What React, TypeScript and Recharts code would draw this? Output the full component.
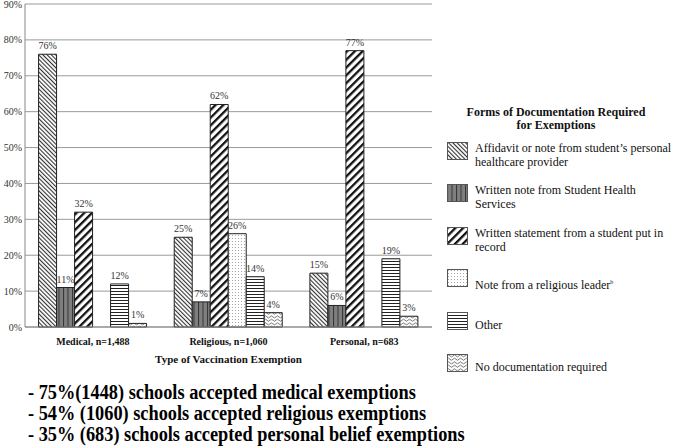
import React from 'react';
import { BarChart, Bar, XAxis, YAxis, CartesianGrid, LabelList } from 'recharts';

const categories = ['Medical, n=1,488', 'Religious, n=1,060', 'Personal, n=683'];
const seriesNames = [
  'Affidavit or note from student\u2019s personal\nhealthcare provider',
  'Written note from Student Health\nServices',
  'Written statement from a student put in\nrecord',
  'Note from a religious leader',
  'Other',
  'No documentation required',
];
const seriesSup = ['', '', '', 'b', '', ''];
const affidavit = [76, 25, 15];
const healthServices = [11, 7, 6];
const statement = [32, 62, 77];
const religiousLeader: (number | null)[] = [null, 26, null];
const other = [12, 14, 19];
const noDocumentation = [1, 4, 3];
const yTicks = [0, 10, 20, 30, 40, 50, 60, 70, 80, 90];
const legendTitle = ['Forms of Documentation Required', 'for Exemptions'];
const xAxisTitle = 'Type of Vaccination Exemption';
const summaryLines = [
  '- 75%(1448) schools accepted medical exemptions',
  '- 54% (1060) schools accepted religious exemptions',
  '- 35% (683) schools accepted personal belief exemptions',
];

const seriesValues = [affidavit, healthServices, statement, religiousLeader, other, noDocumentation];
const keys = ['s0', 's1', 's2', 's3', 's4', 's5'];
const data = categories.map((c, i) => {
  const row: any = { name: c };
  keys.forEach((k, j) => {
    row[k] = seriesValues[j][i];
  });
  return row;
});

const FONT = '"Liberation Serif", "Times New Roman", serif';

const Patterns = () => (
  <defs>
    <pattern id="p0" patternUnits="userSpaceOnUse" width="3" height="3" patternTransform="rotate(-45)">
      <rect width="3" height="3" fill="#fff" />
      <rect x="0" y="0" width="1.1" height="3" fill="#333" />
    </pattern>
    <pattern id="p1" patternUnits="userSpaceOnUse" width="4.5" height="4">
      <rect width="4.5" height="4" fill="#7f7f7f" />
      <rect x="0" y="0" width="1" height="4" fill="#333" />
    </pattern>
    <pattern id="p2" patternUnits="userSpaceOnUse" width="5.5" height="5.5" patternTransform="rotate(45)">
      <rect width="5.5" height="5.5" fill="#fff" />
      <rect x="0" y="0" width="2.3" height="5.5" fill="#111" />
    </pattern>
    <pattern id="p3" patternUnits="userSpaceOnUse" width="3" height="3">
      <rect width="3" height="3" fill="#fff" />
      <rect x="1" y="1" width="0.8" height="0.8" fill="#777" />
    </pattern>
    <pattern id="p4" patternUnits="userSpaceOnUse" width="3" height="3">
      <rect width="3" height="3" fill="#fff" />
      <rect x="0" y="0" width="3" height="1" fill="#222" />
    </pattern>
    <pattern id="p5" patternUnits="userSpaceOnUse" width="6" height="3.5">
      <rect width="6" height="3.5" fill="#fff" />
      <path d="M0 1.8 L1.5 0.8 L3 1.8 L4.5 2.8 L6 1.8" stroke="#444" strokeWidth="0.8" fill="none" />
    </pattern>
  </defs>
);

const fmt = (v: any) => (v ? `${v}%` : '');

export default function App() {
  return (
    <div style={{ position: 'absolute', left: 0, top: 0, width: 675, height: 447, background: '#fff', fontFamily: FONT, overflow: 'hidden' }}>
      <BarChart
        width={675}
        height={366}
        data={data}
        margin={{ top: 4, right: 243, bottom: 0, left: 0 }}
        barCategoryGap="10%"
        barGap={0}
      >
        <Patterns />
        <CartesianGrid vertical={false} stroke="#9a9a9a" strokeWidth={1} />
        <XAxis
          dataKey="name"
          tickLine={false}
          tickSize={0}
          tickMargin={11}
          height={39}
          stroke="#888"
          tick={{ fontSize: 10, fontWeight: 'bold', fill: '#111', fontFamily: FONT }}
          label={{ value: xAxisTitle, position: 'insideBottom', offset: 3, fontSize: 11, fontWeight: 'bold', fill: '#111', fontFamily: FONT }}
        />
        <YAxis
          width={25}
          domain={[0, 90]}
          ticks={yTicks}
          tickFormatter={(v: number) => `${v}%`}
          tickLine={false}
          tickSize={0}
          tickMargin={3}
          stroke="#888"
          tick={{ fontSize: 10, fill: '#333', fontFamily: FONT }}
          interval={0}
        />
        {keys.map((k, j) => (
          <Bar key={k} dataKey={k} name={seriesNames[j]} fill={`url(#p${j})`} stroke="#222" strokeWidth={1} isAnimationActive={false}>
            <LabelList dataKey={k} position="top" offset={5} formatter={fmt} style={{ fontSize: 10, fill: '#333', fontFamily: FONT }} />
          </Bar>
        ))}
      </BarChart>

      <div style={{ position: 'absolute', left: 440, width: 232, top: 106, textAlign: 'center', fontWeight: 'bold', fontSize: 12, lineHeight: '13px', color: '#111' }}>
        {legendTitle.map((t) => (
          <div key={t}>{t}</div>
        ))}
      </div>
      {seriesNames.map((n, j) => {
        const top = 142 + j * 42.4;
        const multi = n.includes('\n');
        return (
          <div key={n} style={{ position: 'absolute', left: 447, top, width: 228 }}>
            <svg width={21} height={18} style={{ position: 'absolute', left: 0, top: 0 }}>
              <rect x={0.5} y={0.5} width={20} height={17} fill={`url(#p${j})`} stroke="#555" strokeWidth={1} />
            </svg>
            <div style={{ position: 'absolute', left: 28, top: multi ? -1 : 6, whiteSpace: 'pre-line', fontSize: 12, lineHeight: '14px', color: '#111' }}>
              {n}
              {seriesSup[j] ? <sup style={{ fontSize: 6 }}>{seriesSup[j]}</sup> : null}
            </div>
          </div>
        );
      })}

      <div style={{ position: 'absolute', left: 28, top: 382, fontWeight: 'bold', fontSize: 20, lineHeight: '21px', color: '#000', whiteSpace: 'nowrap', transform: 'scaleX(0.915)', transformOrigin: 'left top' }}>
        {summaryLines.map((l) => (
          <div key={l}>{l}</div>
        ))}
      </div>
    </div>
  );
}
